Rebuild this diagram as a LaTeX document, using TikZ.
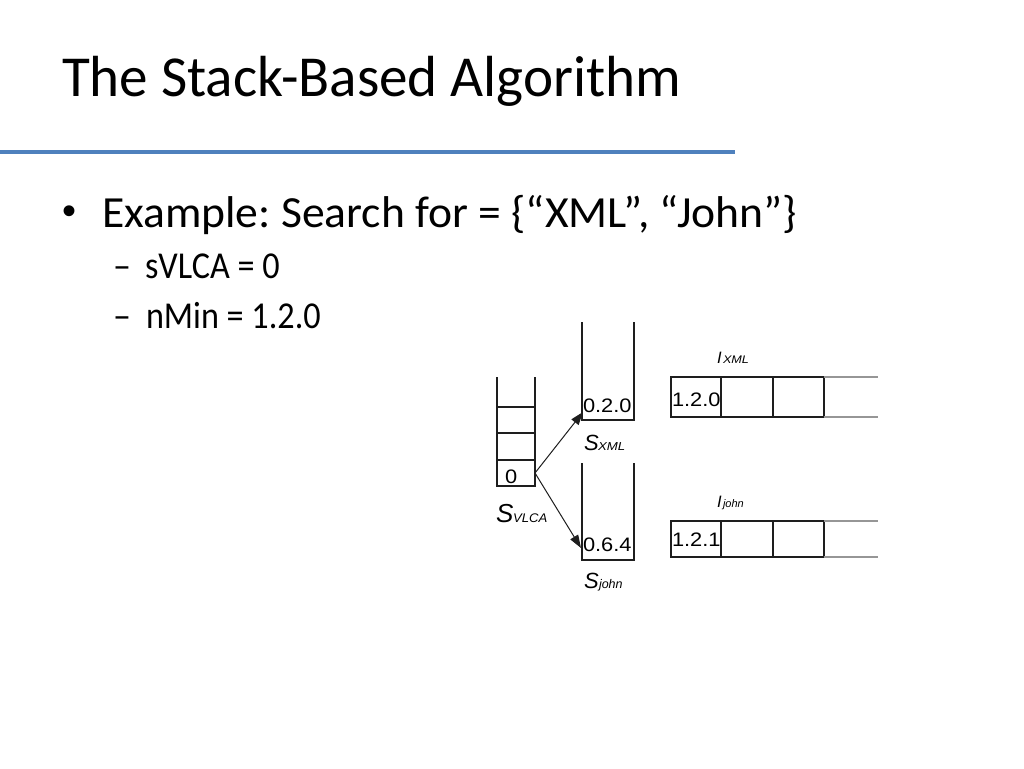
\documentclass[tikz,border=0pt]{standalone}
\usepackage{fontspec}
\setmainfont{Carlito}
\newfontfamily\arialf{Liberation Sans}
\usetikzlibrary{arrows.meta}
\definecolor{rulecol}{RGB}{79,129,189}
\definecolor{ink}{RGB}{30,30,30}
\definecolor{faint}{RGB}{150,150,150}
\frenchspacing
\begin{document}
\begin{tikzpicture}[x=1pt,y=-1pt,
  txt/.style={anchor=base west, inner sep=0pt, outer sep=0pt},
  title/.style={txt, font=\fontsize{58}{70}\selectfont, xscale=0.985},
  lvlone/.style={txt, font=\fontsize{44.5}{52}\selectfont, xscale=1.025},
  lvltwo/.style={txt, font=\fontsize{38}{46}\selectfont, xscale=0.9},
  num/.style={txt, font=\arialf\fontsize{19.5}{22}\selectfont, xscale=1.12},
  lbl/.style={txt, font=\arialf\itshape\fontsize{22}{24}\selectfont},
  wall/.style={draw=ink, line width=1.1pt},
  gwall/.style={draw=faint, line width=1.1pt},
  arr/.style={draw=ink, line width=1pt, -{Triangle[length=13pt,width=9pt]}}
]
\useasboundingbox[fill=white] (0,0) rectangle (1024,768);

% title and rule
\node[title] (ttl) at (62,96) {The Stack-Based Algorithm};
\draw[rulecol, line width=4.5pt] (0,152) -- (735,152);

% bullets
\node[anchor=center, inner sep=0pt, font=\arialf\fontsize{40}{40}\selectfont] (b1) at (69.5,215) {•};
\node[lvlone] (l1) at (102,227) {Example: Search for = \{“XML”, “John”\}};
\node[lvltwo, xscale=1.05] (d1) at (113,278) {–};
\node[lvltwo] (l2) at (145,278) {sVLCA = 0};
\node[lvltwo, xscale=1.05] (d2) at (113,328) {–};
\node[lvltwo] (l3) at (146,328) {nMin = 1.2.0};

% stack S_VLCA
\draw[wall] (497,377) -- (497,486) -- (535,486) -- (535,377);
\draw[wall] (497,407) -- (535,407) (497,433) -- (535,433) (497,460) -- (535,460);
\node[num] (zero) at (505,483) {0};
\coordinate (c0) at (535,473);
\node[lbl, font=\arialf\itshape\fontsize{26}{26}\selectfont] (svl) at (496,522) {S};
\node[lbl, font=\arialf\itshape\fontsize{12.5}{14}\selectfont, xscale=1.05] (svlsub) at (513,522) {VLCA};

% stack S_XML
\draw[wall] (582,322) -- (582,420) -- (634,420) -- (634,322);
\node[num] (v020) at (583,412) {0.2.0};
\coordinate (tx) at (583,412);
\node[lbl] (sx) at (584,450) {S};
\node[lbl, font=\arialf\itshape\fontsize{11.5}{12}\selectfont, xscale=1.15] (sxsub) at (598,450) {XML};

% stack S_john
\draw[wall] (582,463) -- (582,560) -- (634,560) -- (634,463);
\node[num] (v064) at (583,551) {0.6.4};
\coordinate (tj) at (581,548);
\node[lbl] (sj) at (584,588) {S};
\node[lbl, font=\arialf\itshape\fontsize{12.5}{13}\selectfont] (sjsub) at (599,588) {john};

% arrows
\draw[arr] (c0) -- (tx);
\draw[arr] (c0) -- (tj);

% list I_XML
\draw[wall] (824,377) -- (671,377) -- (671,417) -- (824,417);
\draw[wall] (721,377) -- (721,417) (773,377) -- (773,417) (824,377) -- (824,417);
\draw[gwall] (824,377) -- (878,377) (824,417) -- (878,417);
\node[num] (v120) at (672,406) {1.2.0};
\node[lbl, font=\arialf\itshape\fontsize{16.5}{18}\selectfont] (ix) at (717,363) {I};
\node[lbl, font=\arialf\itshape\fontsize{11}{11}\selectfont, xscale=1.15] (ixsub) at (723,363) {XML};

% list I_john
\draw[wall] (824,521) -- (671,521) -- (671,557) -- (824,557);
\draw[wall] (721,521) -- (721,557) (773,521) -- (773,557) (824,521) -- (824,557);
\draw[gwall] (824,521) -- (878,521) (824,557) -- (878,557);
\node[num] (v121) at (672,546) {1.2.1};
\node[lbl, font=\arialf\itshape\fontsize{16.5}{18}\selectfont] (ij) at (717,507) {I};
\node[lbl, font=\arialf\itshape\fontsize{11}{11}\selectfont] (ijsub) at (723,507) {john};
\end{tikzpicture}
\end{document}
